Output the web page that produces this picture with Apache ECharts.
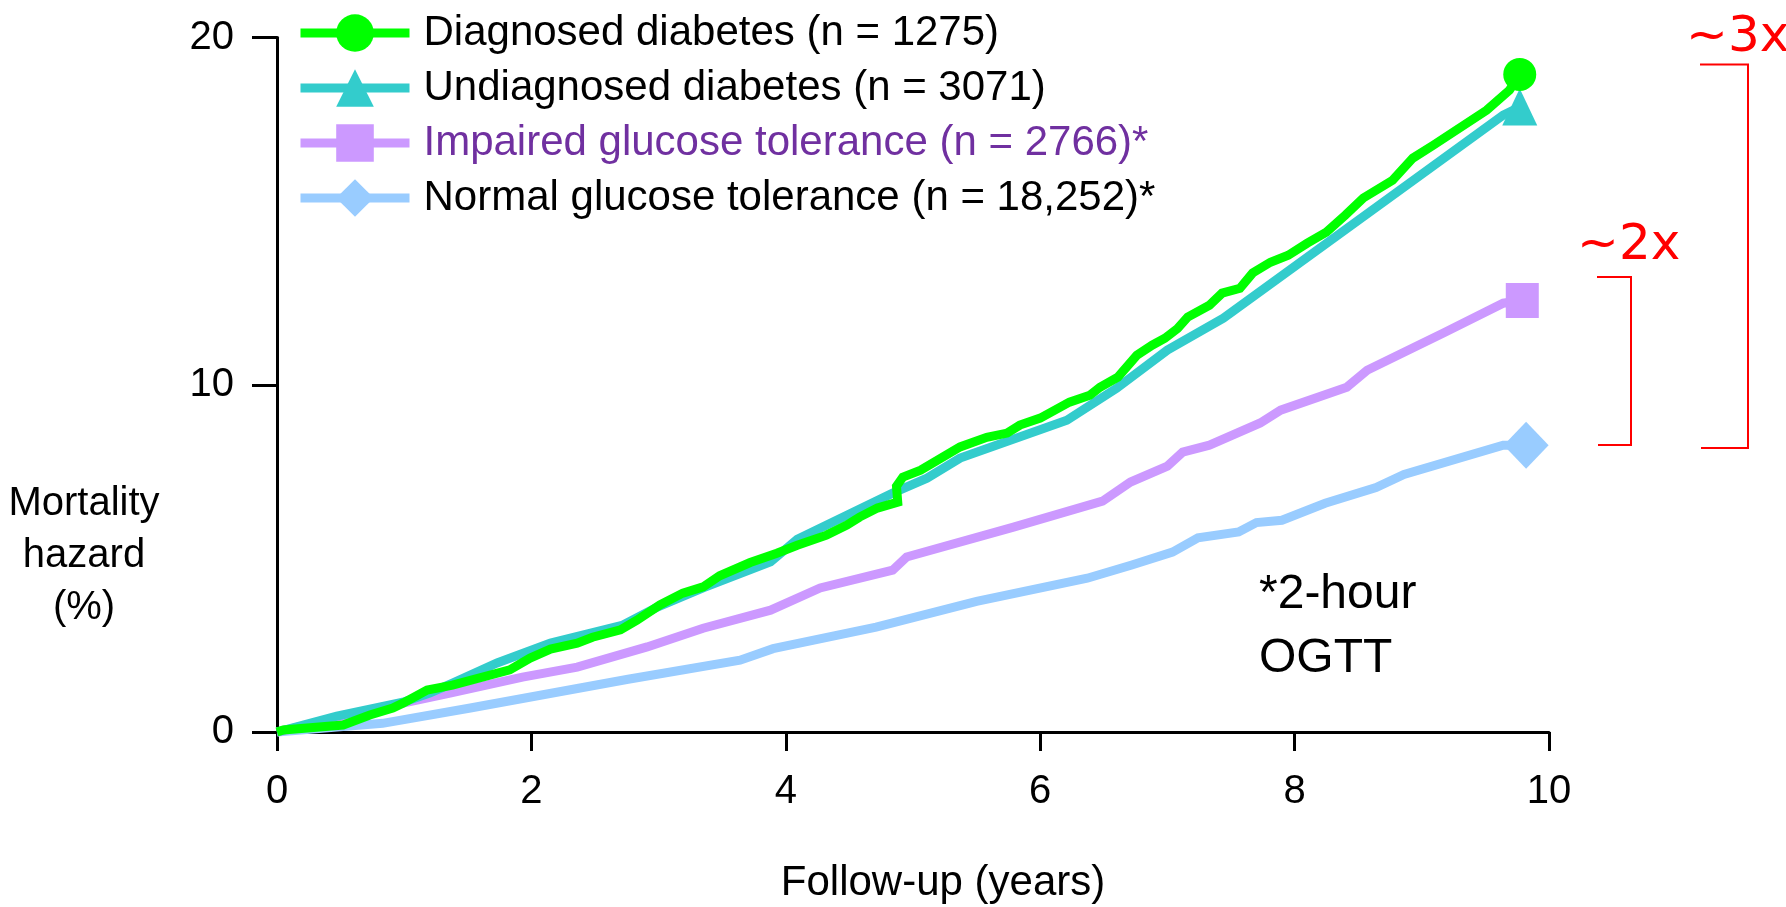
<!DOCTYPE html>
<html>
<head>
<meta charset="utf-8">
<script src="https://cdn.jsdelivr.net/npm/echarts@6/dist/echarts.min.js"></script>
<style>
  html, body { margin: 0; padding: 0; background: #ffffff; }
  #chart { width: 1786px; height: 907px; }
</style>
</head>
<body>
<div id="chart"></div>
<script>
// Cumulative mortality hazard (%) against follow-up time (years), one curve per glucose group.
const diagnosedYears  = [0, 0.05, 0.52, 0.73, 0.91, 0.99, 1.18, 1.38, 1.83, 1.99, 2.15, 2.36, 2.48, 2.70, 2.83, 3.01, 3.19, 3.35, 3.48, 3.72, 3.93, 4.09, 4.32, 4.48, 4.58, 4.72, 4.88, 4.87, 4.92, 5.06, 5.37, 5.58, 5.74, 5.84, 6.00, 6.23, 6.39, 6.47, 6.61, 6.76, 6.88, 6.98, 7.08, 7.16, 7.33, 7.43, 7.57, 7.67, 7.81, 7.95, 8.10, 8.25, 8.40, 8.54, 8.77, 8.93, 9.09, 9.51, 9.69, 9.77];
const diagnosedHazard = [0, 0.06, 0.20, 0.49, 0.69, 0.83, 1.21, 1.35, 1.79, 2.13, 2.39, 2.56, 2.73, 2.94, 3.22, 3.66, 4.00, 4.18, 4.50, 4.88, 5.15, 5.38, 5.67, 5.96, 6.19, 6.45, 6.62, 7.08, 7.34, 7.54, 8.21, 8.49, 8.61, 8.84, 9.04, 9.50, 9.70, 9.93, 10.22, 10.85, 11.14, 11.34, 11.62, 11.95, 12.29, 12.64, 12.78, 13.22, 13.53, 13.73, 14.08, 14.40, 14.89, 15.38, 15.89, 16.53, 16.90, 17.91, 18.49, 18.94];

const undiagnosedYears  = [0, 0.47, 0.99, 1.20, 1.38, 1.73, 2.15, 2.72, 2.99, 3.35, 3.88, 4.09, 4.84, 5.11, 5.37, 6.21, 6.60, 7.00, 7.44, 9.64, 9.77];
const undiagnosedHazard = [0, 0.46, 0.86, 1.12, 1.41, 1.99, 2.56, 3.08, 3.60, 4.15, 4.90, 5.55, 6.88, 7.31, 7.89, 8.98, 9.90, 11.00, 11.92, 17.77, 18.00];

const impairedYears  = [0, 0.99, 1.36, 1.93, 2.36, 2.91, 3.35, 3.88, 4.27, 4.84, 4.95, 5.79, 6.49, 6.71, 7.00, 7.12, 7.33, 7.73, 7.89, 8.41, 8.57, 9.17, 9.64, 9.79];
const impairedHazard = [0, 0.83, 1.12, 1.58, 1.87, 2.45, 2.99, 3.51, 4.15, 4.66, 5.04, 5.90, 6.65, 7.20, 7.66, 8.06, 8.26, 8.90, 9.27, 9.93, 10.42, 11.49, 12.35, 12.43];

const normalYears  = [0, 0.47, 0.83, 1.52, 2.76, 3.64, 3.90, 4.71, 5.50, 6.37, 6.72, 7.04, 7.24, 7.56, 7.70, 7.90, 8.24, 8.64, 8.86, 9.64, 9.82];
const normalHazard = [0, 0.14, 0.25, 0.69, 1.52, 2.07, 2.40, 3.02, 3.76, 4.43, 4.81, 5.18, 5.59, 5.76, 6.03, 6.10, 6.59, 7.04, 7.42, 8.26, 8.26];

const groupNames = [
  'Diagnosed diabetes (n = 1275)',
  'Undiagnosed diabetes (n = 3071)',
  'Impaired glucose tolerance (n = 2766)*',
  'Normal glucose tolerance (n = 18,252)*'
];

const xTicks = [0, 2, 4, 6, 8, 10];
const yTicks = [0, 10, 20];

const ARIAL = 'Liberation Sans, Arial, sans-serif';
const WIDE = 'DejaVu Sans, Verdana, sans-serif';
const LINE_W = 9;

// Each curve carries a marker only on its final point.
function curve(name, xs, ys, color, symbol, endSize) {
  const last = xs.length - 1;
  return {
    name: name,
    type: 'line',
    symbol: symbol,
    showSymbol: true,
    clip: false,
    data: xs.map(function (x, i) {
      return i === last
        ? { value: [x, ys[i]], symbol: symbol, symbolSize: endSize }
        : { value: [x, ys[i]], symbol: 'none' };
    }),
    lineStyle: { color: color, width: LINE_W, join: 'miter' },
    itemStyle: { color: color },
    emphasis: { disabled: true }
  };
}

const chart = echarts.init(document.getElementById('chart'));

chart.setOption({
  animation: false,
  backgroundColor: '#ffffff',
  grid: { left: 277, right: 237, top: 37.6, bottom: 175, containLabel: false, outerBoundsMode: 'none' },
  xAxis: {
    type: 'value',
    min: xTicks[0],
    max: xTicks[xTicks.length - 1],
    interval: xTicks[1] - xTicks[0],
    name: 'Follow-up (years)',
    nameLocation: 'middle',
    nameGap: 130,
    nameTextStyle: { fontFamily: ARIAL, fontSize: 42, color: '#000', padding: [0, 0, 0, 60] },
    axisLine: { lineStyle: { color: '#000', width: 3 } },
    axisTick: { show: true, length: 19, lineStyle: { color: '#000', width: 3 } },
    axisLabel: { fontFamily: ARIAL, fontSize: 40, color: '#000', margin: 40 },
    splitLine: { show: false }
  },
  yAxis: {
    type: 'value',
    min: yTicks[0],
    max: yTicks[yTicks.length - 1],
    interval: yTicks[1] - yTicks[0],
    axisLine: { lineStyle: { color: '#000', width: 3 } },
    axisTick: { show: true, length: 25, lineStyle: { color: '#000', width: 3 } },
    axisLabel: { fontFamily: ARIAL, fontSize: 40, color: '#000', margin: 43 },
    splitLine: { show: false }
  },
  legend: {
    orient: 'vertical',
    left: 296,
    top: 12,
    padding: 0,
    itemWidth: 109,
    itemHeight: 47,
    itemGap: 13,
    selectedMode: false,
    lineStyle: { width: LINE_W },
    textStyle: { fontFamily: ARIAL, fontSize: 42, color: '#000', padding: [0, 0, 0, 9] },
    data: [
      { name: groupNames[0] },
      { name: groupNames[1] },
      { name: groupNames[2], textStyle: { color: '#7030a0' } },
      { name: groupNames[3] }
    ]
  },
  graphic: [
    {
      type: 'text', x: 84, y: 556,
      style: { text: 'Mortality\nhazard\n(%)', font: '40px ' + ARIAL, fill: '#000', align: 'center', verticalAlign: 'middle', lineHeight: 52 }
    },
    {
      type: 'text', x: 1259, y: 627,
      style: { text: '*2-hour\nOGTT', font: '48px ' + ARIAL, fill: '#000', align: 'left', verticalAlign: 'middle', lineHeight: 64 }
    },
    {
      type: 'polyline',
      shape: { points: [[1700, 64.5], [1748, 64.5], [1748, 448], [1701, 448]] },
      style: { stroke: '#ff0000', lineWidth: 2, fill: null }
    },
    {
      type: 'polyline',
      shape: { points: [[1597, 277], [1631, 277], [1631, 445], [1598, 445]] },
      style: { stroke: '#ff0000', lineWidth: 2, fill: null }
    },
    {
      type: 'text', x: 1686, y: 38,
      style: { text: '~3x', font: '50px ' + WIDE, fill: '#ff0000', align: 'left', verticalAlign: 'middle' }
    },
    {
      type: 'text', x: 1577, y: 246,
      style: { text: '~2x', font: '50px ' + WIDE, fill: '#ff0000', align: 'left', verticalAlign: 'middle' }
    }
  ],
  series: [
    curve(groupNames[3], normalYears, normalHazard, '#99ccff', 'diamond', [45, 47]),
    curve(groupNames[2], impairedYears, impairedHazard, '#cc99ff', 'rect', [33, 35]),
    curve(groupNames[1], undiagnosedYears, undiagnosedHazard, '#33cccc', 'triangle', [35, 37]),
    curve(groupNames[0], diagnosedYears, diagnosedHazard, '#00ff00', 'circle', 33)
  ]
});
</script>
</body>
</html>
